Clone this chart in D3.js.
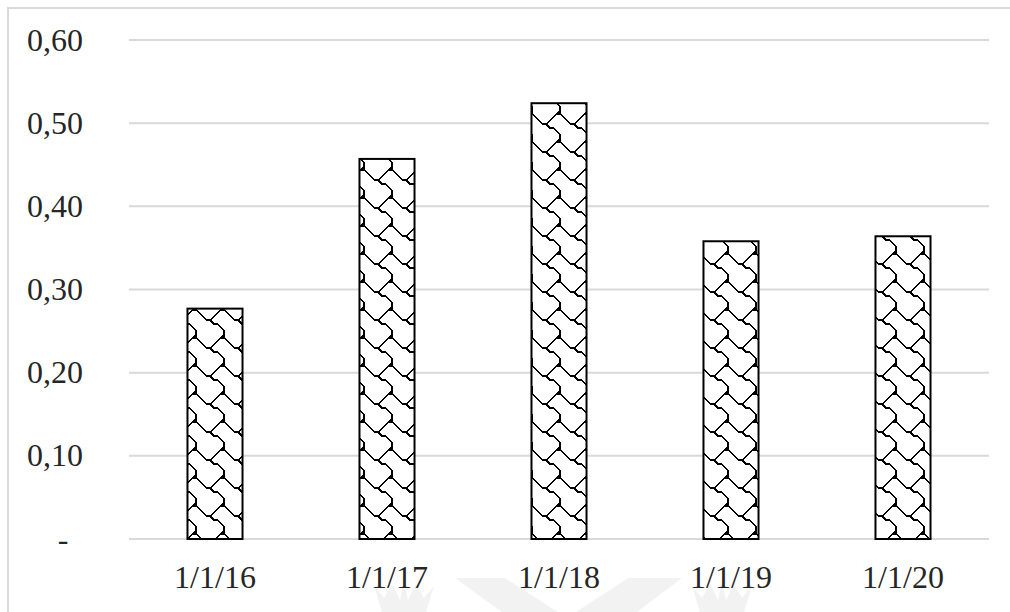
<!DOCTYPE html>
<html>
<head>
<meta charset="utf-8">
<script src="https://cdn.jsdelivr.net/npm/d3@7"></script>
<style>
  html, body { margin: 0; padding: 0; background: #ffffff; }
  svg { display: block; }
</style>
</head>
<body>
<svg id="chart" width="1010" height="612"></svg>
<script>
// Annual values by reporting date
const categories = ["1/1/16", "1/1/17", "1/1/18", "1/1/19", "1/1/20"];
const values = [0.277, 0.457, 0.524, 0.358, 0.364];
const yTicks = [0, 0.1, 0.2, 0.3, 0.4, 0.5, 0.6];
const yTickLabels = ["-", "0,10", "0,20", "0,30", "0,40", "0,50", "0,60"];

// 8x8 "shingle" fill bitmap, one byte per row, MSB on the left
const shingleRows = [0x03, 0x84, 0x48, 0x30, 0x0c, 0x02, 0x01, 0x01];

const W = 1010, H = 612;
const margin = { left: 129, right: 21, top: 40, bottom: 73 };
const svg = d3.select("#chart");

// Faint background watermark logo
const wm = svg.append("g").attr("fill", "#f2f2f2");
wm.append("path").attr("d",
  "M455,578 L505,578 L567,618 L628,578 L682,578 L600,640 L540,640 Z");
function crown(cx) {
  return `M${cx - 30},586 L${cx - 20},598 L${cx - 12},584 L${cx - 4},600 L${cx},582 ` +
         `L${cx + 4},600 L${cx + 12},584 L${cx + 20},598 L${cx + 30},586 ` +
         `L${cx + 22},612 L${cx - 22},612 Z`;
}
wm.append("path").attr("d", crown(404));
wm.append("path").attr("d", crown(722));

// Outer chart frame
svg.append("rect")
  .attr("x", 8).attr("y", 8)
  .attr("width", W + 20).attr("height", H + 20)
  .attr("fill", "none")
  .attr("stroke", "#d9d9d9")
  .attr("stroke-width", 2);

// Pattern fill built from the bitmap: neighbouring "on" cells are joined
const cell = 3.5, tile = cell * 8;
const defs = svg.append("defs");
const pat = defs.append("pattern")
  .attr("id", "shingle")
  .attr("patternUnits", "userSpaceOnUse")
  .attr("width", tile).attr("height", tile)
  .attr("x", 2).attr("y", 0);
pat.append("rect").attr("width", tile).attr("height", tile).attr("fill", "#ffffff");
const on = (c, r) => {
  const rr = ((r % 8) + 8) % 8, cc = ((c % 8) + 8) % 8;
  return (shingleRows[rr] >> (7 - cc)) & 1;
};
let d = "";
for (let r = -1; r <= 8; r++) {
  for (let c = -1; c <= 8; c++) {
    if (!on(c, r)) continue;
    const x = (c + 0.5) * cell, y = (r + 0.5) * cell;
    [[1, 0], [0, 1], [1, 1], [-1, 1]].forEach(([dc, dr]) => {
      if (!on(c + dc, r + dr)) return;
      const x2 = (c + dc + 0.5) * cell, y2 = (r + dr + 0.5) * cell;
      d += `M${x},${y}L${x2},${y2}`;
    });
  }
}
pat.append("path").attr("d", d)
  .attr("fill", "none").attr("stroke", "#000000")
  .attr("stroke-width", 2).attr("stroke-linecap", "square")
  .attr("shape-rendering", "crispEdges");

// Scales
const x = d3.scaleBand()
  .domain(categories)
  .range([margin.left, W - margin.right])
  .paddingInner(0.68).paddingOuter(0.34);
const y = d3.scaleLinear()
  .domain([0, 0.6])
  .range([H - margin.bottom, margin.top]);

// Horizontal gridlines
svg.append("g")
  .selectAll("line")
  .data(yTicks)
  .join("line")
  .attr("x1", margin.left).attr("x2", W - margin.right)
  .attr("y1", v => y(v)).attr("y2", v => y(v))
  .attr("stroke", "#d9d9d9").attr("stroke-width", 2);

// Bars
svg.append("g")
  .selectAll("rect")
  .data(values)
  .join("rect")
  .attr("x", (v, i) => x(categories[i]))
  .attr("y", v => y(v))
  .attr("width", x.bandwidth())
  .attr("height", v => y(0) - y(v))
  .attr("fill", "url(#shingle)")
  .attr("stroke", "#000000")
  .attr("stroke-width", 2);

// Y-axis labels
const font = "'Liberation Serif', 'Times New Roman', serif";
svg.append("g")
  .selectAll("text")
  .data(yTicks)
  .join("text")
  .attr("x", (v, i) => v === 0 ? 63 : 83)
  .attr("y", v => y(v))
  .attr("dy", "0.33em")
  .attr("text-anchor", v => v === 0 ? "middle" : "end")
  .attr("font-family", font)
  .attr("font-size", 32)
  .attr("fill", "#262626")
  .text((v, i) => yTickLabels[i]);

// Category labels
svg.append("g")
  .selectAll("text")
  .data(categories)
  .join("text")
  .attr("x", c => x(c) + x.bandwidth() / 2)
  .attr("y", 588)
  .attr("text-anchor", "middle")
  .attr("font-family", font)
  .attr("font-size", 32)
  .attr("fill", "#262626")
  .text(c => c);
</script>
</body>
</html>
